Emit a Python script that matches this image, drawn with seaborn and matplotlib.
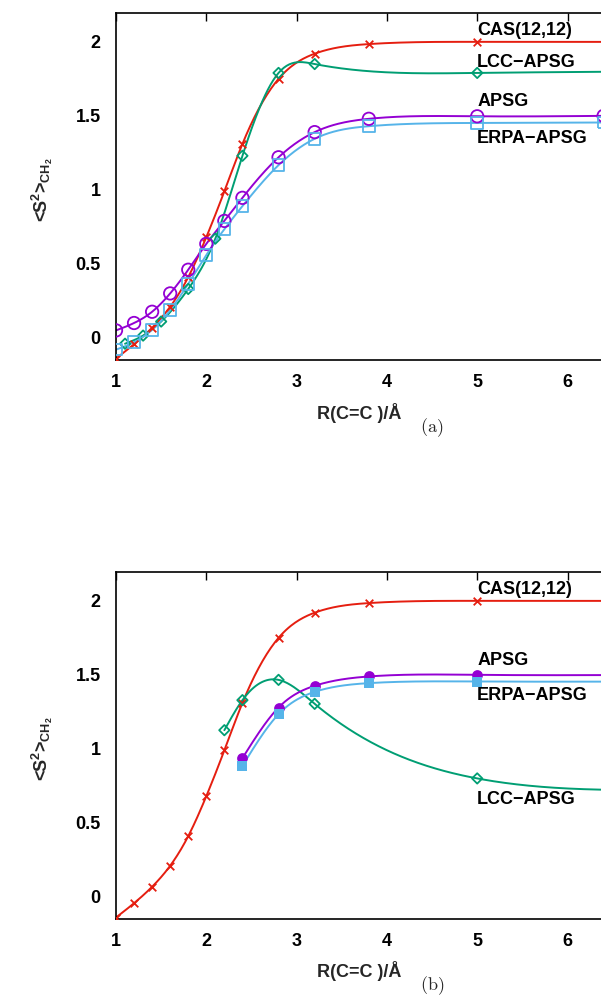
import numpy as np
import pandas as pd
import matplotlib
matplotlib.use("Agg")
import matplotlib.pyplot as plt
from matplotlib import font_manager
import seaborn as sns

# ---------------- data ----------------
cas_x = [1.0, 1.2, 1.4, 1.6, 1.8, 2.0, 2.2, 2.4, 2.8, 3.2, 3.8, 5.0, 7.0]
cas_y = [-0.14, -0.043, 0.068, 0.21, 0.41, 0.68, 0.99, 1.31, 1.75, 1.92, 1.985, 2.0, 2.0]

# panel (a)
apsg_a_x = [1.0, 1.2, 1.4, 1.6, 1.8, 2.0, 2.2, 2.4, 2.8, 3.2, 3.8, 5.0, 6.4]
apsg_a_y = [0.05, 0.10, 0.176, 0.30, 0.46, 0.635, 0.79, 0.946, 1.22, 1.39, 1.48, 1.497, 1.5]
erpa_a_x = [1.0, 1.2, 1.4, 1.6, 1.8, 2.0, 2.2, 2.4, 2.8, 3.2, 3.8, 5.0, 6.4]
erpa_a_y = [-0.08, -0.03, 0.054, 0.187, 0.365, 0.56, 0.734, 0.89, 1.167, 1.345, 1.43, 1.452, 1.455]
lcc_a_x = [1.1, 1.3, 1.5, 1.8, 2.1, 2.4, 2.8, 3.2, 5.0, 7.0]
lcc_a_y = [-0.04, 0.015, 0.11, 0.33, 0.67, 1.23, 1.79, 1.85, 1.79, 1.80]

# panel (b)
apsg_b_x = [2.4, 2.8, 3.2, 3.8, 5.0, 7.0]
apsg_b_y = [0.937, 1.279, 1.426, 1.489, 1.50, 1.50]
erpa_b_x = [2.4, 2.8, 3.2, 3.8, 5.0, 7.0]
erpa_b_y = [0.885, 1.234, 1.385, 1.444, 1.455, 1.455]
lcc_b_x = [2.2, 2.4, 2.8, 3.2, 5.0, 7.0]
lcc_b_y = [1.126, 1.329, 1.466, 1.304, 0.80, 0.72]

x_ticks = [1, 2, 3, 4, 5, 6]
y_ticks = [0, 0.5, 1, 1.5, 2]
y_tick_labels = ["0", "0.5", "1", "1.5", "2"]

# ---------------- style ----------------
sns.set_theme(style="white")
names = {f.name for f in font_manager.fontManager.ttflist}
FONT = "Liberation Sans Narrow" if "Liberation Sans Narrow" in names else "Liberation Sans"
plt.rcParams["font.family"] = [FONT, "DejaVu Sans"]
plt.rcParams["font.weight"] = "bold"
plt.rcParams["mathtext.fontset"] = "custom"
plt.rcParams["mathtext.rm"] = FONT + ":bold"
plt.rcParams["mathtext.bf"] = FONT + ":bold"
plt.rcParams["mathtext.it"] = FONT + ":bold"

RED = "#e51e10"
GREEN = "#009e73"
PURPLE = "#9400d3"
BLUE = "#56b4e9"


def natural_spline(x, y, n=400):
    x = np.asarray(x, float)
    y = np.asarray(y, float)
    m = len(x)
    h = np.diff(x)
    A = np.zeros((m, m))
    b = np.zeros(m)
    A[0, 0] = 1
    A[-1, -1] = 1
    for i in range(1, m - 1):
        A[i, i - 1] = h[i - 1]
        A[i, i] = 2 * (h[i - 1] + h[i])
        A[i, i + 1] = h[i]
        b[i] = 6 * ((y[i + 1] - y[i]) / h[i] - (y[i] - y[i - 1]) / h[i - 1])
    M = np.linalg.solve(A, b)
    xs = np.linspace(x[0], x[-1], n)
    idx = np.clip(np.searchsorted(x, xs) - 1, 0, m - 2)
    x0, x1 = x[idx], x[idx + 1]
    hh = x1 - x0
    t0 = x1 - xs
    t1 = xs - x0
    ys = (M[idx] * t0 ** 3 / (6 * hh) + M[idx + 1] * t1 ** 3 / (6 * hh)
          + (y[idx] / hh - M[idx] * hh / 6) * t0
          + (y[idx + 1] / hh - M[idx + 1] * hh / 6) * t1)
    return xs, ys


def draw_series(ax, x, y, color, marker, filled, ms):
    xs, ys = natural_spline(x, y)
    sns.lineplot(x=xs, y=ys, ax=ax, color=color, lw=1.4, sort=False,
                 estimator=None, zorder=2)
    if marker == "x":
        sns.scatterplot(x=x, y=y, ax=ax, marker="x", color=color, s=ms,
                        linewidth=1.3, zorder=3)
    elif filled:
        sns.scatterplot(x=x, y=y, ax=ax, marker=marker, color=color,
                        edgecolor=color, s=ms, linewidth=0, zorder=3)
    else:
        sns.scatterplot(x=x, y=y, ax=ax, marker=marker, facecolor="none",
                        edgecolor=color, s=ms, linewidth=1.3, zorder=3)


W, H = 601, 996
fig = plt.figure(figsize=(W / 100, H / 100), dpi=100)
ax_w = (90.3 * 6) / W
ax_h = 347 / H
ax_a = fig.add_axes([116 / W, 1 - 360 / H, ax_w, ax_h])
ax_b = fig.add_axes([116 / W, 1 - 919 / H, ax_w, ax_h])

# panel (a)
draw_series(ax_a, cas_x, cas_y, RED, "x", False, 30)
draw_series(ax_a, lcc_a_x, lcc_a_y, GREEN, "D", False, 28)
draw_series(ax_a, apsg_a_x, apsg_a_y, PURPLE, "o", False, 80)
draw_series(ax_a, erpa_a_x, erpa_a_y, BLUE, "s", False, 70)

# panel (b)
draw_series(ax_b, cas_x, cas_y, RED, "x", False, 30)
draw_series(ax_b, lcc_b_x, lcc_b_y, GREEN, "D", False, 28)
draw_series(ax_b, apsg_b_x, apsg_b_y, PURPLE, "o", True, 60)
draw_series(ax_b, erpa_b_x, erpa_b_y, BLUE, "s", True, 60)

label_fs = 13
for ax in (ax_a, ax_b):
    ax.set_xlim(1, 7)
    ax.set_ylim(-0.15, 2.195)
    ax.set_xticks(x_ticks)
    ax.set_xticklabels([str(t) for t in x_ticks])
    ax.set_yticks(y_ticks)
    ax.set_yticklabels(y_tick_labels)
    ax.tick_params(direction="in", length=6, width=1.0, color="black",
                   top=True, right=True, labelsize=label_fs, pad=10,
                   labelcolor="black")
    ax.tick_params(axis="y", pad=11)
    for lab in ax.get_xticklabels() + ax.get_yticklabels():
        lab.set_fontweight("bold")
    for s in ax.spines.values():
        s.set_color("black")
        s.set_linewidth(1.2)
    ax.set_xlabel("")
    ax.set_ylabel("")
    ax.grid(False)

# in-plot labels
lab_kw = dict(fontsize=label_fs, fontweight="bold", color="black",
              ha="left", va="center")
ax_a.text(5.0, 2.08, "CAS(12,12)", **lab_kw)
ax_a.text(5.0, 1.86, "LCC\u2212APSG", **lab_kw)
ax_a.text(5.0, 1.60, "APSG", **lab_kw)
ax_a.text(5.0, 1.35, "ERPA\u2212APSG", **lab_kw)
ax_b.text(5.0, 2.074, "CAS(12,12)", **lab_kw)
ax_b.text(5.0, 1.60, "APSG", **lab_kw)
ax_b.text(5.0, 1.358, "ERPA\u2212APSG", **lab_kw)
ax_b.text(5.0, 0.66, "LCC\u2212APSG", **lab_kw)

# axis titles
ylab = r"<S$^{\mathbf{2}}$>$_{\mathbf{CH_2}}$"
for yc in (190, 749):
    fig.text(42 / W, 1 - yc / H, ylab, rotation=90, fontsize=label_fs,
             fontweight="bold", ha="center", va="center")
for yc, tag in ((413, "(a)"), (971, "(b)")):
    fig.text(359 / W, 1 - yc / H, "R(C=C )/\u00c5", fontsize=label_fs,
             fontweight="bold", ha="center", va="center")
    fig.text(432 / W, 1 - (yc + 15) / H, r"$\mathrm{" + tag + "}$",
             fontsize=13, ha="center", va="center", math_fontfamily="cm")

fig.savefig("out.png", dpi=100, facecolor="white")
